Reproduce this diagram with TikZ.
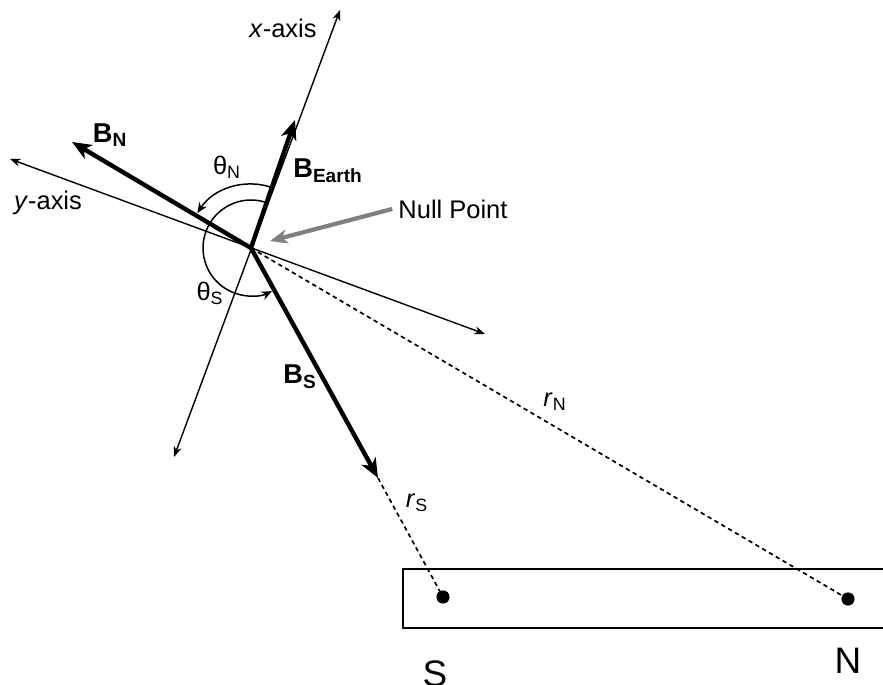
\documentclass[tikz,border=0pt]{standalone}
\usepackage{fontspec}
\setmainfont{Liberation Sans}
\usetikzlibrary{arrows.meta}

\begin{document}
\begin{tikzpicture}[x=0.02cm, y=0.02cm, every node/.style={font=\fontsize{14.5}{17}\selectfont},
  axis/.style={line width=0.8pt,{Stealth[length=6pt,width=4.5pt]}-{Stealth[length=6pt,width=4.5pt]}},
  vec/.style={line width=2.5pt,-{Stealth[length=11pt,width=9pt,inset=3pt]}},
  rline/.style={line width=0.95pt,dash pattern=on 2.5pt off 2pt},
  angarc/.style={line width=0.85pt,-{Stealth[length=6pt,width=5pt]}},
  pole/.style={circle,fill,inner sep=0pt,minimum size=7.5pt},
  veclab/.style={font=\fontsize{15.5}{18}\selectfont\bfseries},
  bigl/.style={font=\fontsize{21}{24}\selectfont}]
\clip (0,0) rectangle (883,685);
\coordinate (O) at (251,437);
\coordinate (xtop) at (340,675);
\coordinate (xbot) at (174,228);
\coordinate (ytop) at (10,526);
\coordinate (ybot) at (485,351);
\coordinate (bn) at (72,543);
\coordinate (be) at (295,565);
\coordinate (bs) at (378,207);
\coordinate (np) at (270,444);
% magnet
\draw[line width=1.4pt] (403,57) rectangle (900,116);
\node[pole] (S) at (443,88) {};
\node[pole] (N) at (848,86) {};
\node[bigl] (slab) at (435,11) {S};
\node[bigl] (nlab) at (848,24) {N};
% axes
\draw[axis] (xbot) -- (xtop);
\draw[axis] (ybot) -- (ytop);
\node (xlab) at (283,657) {\textit{x}-axis};
\node (ylab) at (48,482) {\textit{y}-axis};
% distances
\draw[rline] (bs) -- (S.center);
\draw[rline] (O) -- (N.center);
\node (rslab) at (417,182) {\textit{r}\textsubscript{S}};
\node (rnlab) at (555,283) {\textit{r}\textsubscript{N}};
% field vectors
\draw[vec] (O) -- (bn);
\draw[vec] (O) -- (be);
\draw[vec] (O) -- (bs);
\node[veclab] (bnlab) at (110,550) {B\textsubscript{N}};
\node[veclab] (belab) at (328,514) {B\textsubscript{Earth}};
\node[veclab] (bslab) at (300,308) {B\textsubscript{S}};
% angles
\draw[angarc] ([shift={(71:1.28cm)}]O) arc[start angle=71,end angle=147,radius=1.28cm];
\draw[angarc] ([shift={(71:0.96cm)}]O) arc[start angle=71,end angle=296,radius=0.96cm];
\node (tnlab) at (227,518) {θ\textsubscript{N}};
\node (tslab) at (210,392) {θ\textsubscript{S}};
% null point
\node (nplab) at (453,476) {Null Point};
\draw[line width=2.4pt,black!50,-{Stealth[length=10pt,width=8pt,inset=3pt]}] (nplab.west) -- (np);
\end{tikzpicture}
\end{document}
